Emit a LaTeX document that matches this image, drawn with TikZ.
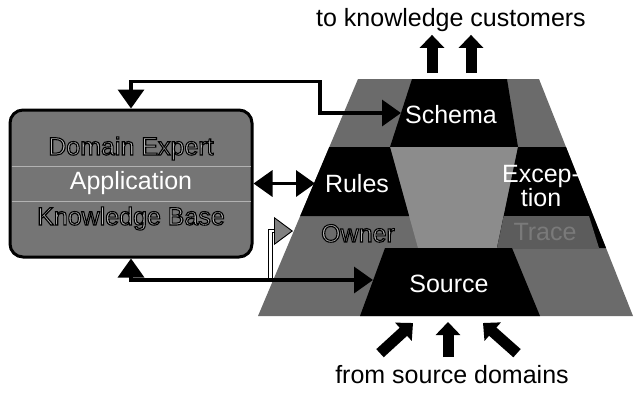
\documentclass[tikz,border=0pt]{standalone}
\usepackage{fontspec}
\setmainfont{Liberation Sans}
\usetikzlibrary{arrows.meta,calc}

\definecolor{pyrgrey}{gray}{0.42}
\definecolor{dotgrey}{gray}{0.55}
\definecolor{tracegrey}{gray}{0.36}
\definecolor{tracetext}{gray}{0.48}
\definecolor{boxgrey}{gray}{0.46}
\definecolor{embossgrey}{gray}{0.72}

% grey letters with a black rim (fill-and-stroke text rendering)
\newcommand\embossed[1]{{\color{embossgrey}%
  \special{pdf:literal direct 2 Tr 1.1 w 0 G}#1\special{pdf:literal direct 0 Tr}}}

\tikzset{
  every node/.style={font=\fontsize{25}{30}\selectfont, inner sep=0pt},
  kbbox/.style={draw=black, line width=3pt, fill=boxgrey, rounded corners=13pt,
    minimum width=242pt, minimum height=147pt, align=center,
    font=\fontsize{25}{35}\selectfont},
  kbrule/.style={draw=black!30, line width=1pt},
  layerlabel/.style={text=white},
  caption/.style={text=black, inner sep=3.5pt},
  kblink/.style={line width=3.5pt,
    {Triangle[width=26pt,length=19pt]}-{Triangle[width=26pt,length=19pt]}},
  ownerlink/.style={draw=black, line width=0.9pt, double=white, double distance=2.6pt,
    -{Triangle[width=28pt,length=19pt,fill=black!50]}},
  fatarrow/.style={line width=11pt, -{Triangle[width=24pt,length=13pt]}},
}

\begin{document}
\begin{tikzpicture}[x=1pt,y=-1pt]
\useasboundingbox (0,0) rectangle (634,392);

% ---- knowledge base box ----
\node[kbbox] (kb) at (131,183.5)
  {\embossed{Domain Expert}\\\textcolor{white}{Application}\\\embossed{Knowledge Base}};
\draw[kbrule] ([xshift=3pt,yshift=-58pt]kb.north west) -- ([xshift=-3pt,yshift=-58pt]kb.north east);
\draw[kbrule] ([xshift=3pt,yshift=-93pt]kb.north west) -- ([xshift=-3pt,yshift=-93pt]kb.north east);

% ---- layered pyramid ----
\fill[pyrgrey] (358,79) -- (539,79) -- (633,316) -- (258,316) -- cycle;
\fill[black]   (412,79) -- (507,79) -- (518,147) -- (390,147) -- cycle;          % schema
\fill[dotgrey] (390,147) -- (518,147) -- (497,248) -- (418,248) -- cycle;        % core
\fill[black]   (329.3,147) -- (390,147) -- (409.1,216) -- (300.2,216) -- cycle;  % rules
\fill[black]   (518,147) -- (566,147) -- (606,248) -- (497,248) -- cycle;        % exception
\fill[tracegrey] (503.7,216) -- (589,216) -- (599,248) -- (497,248) -- cycle;    % trace
\fill[black]   (385,248) -- (512,248) -- (540,316) -- (360,316) -- cycle;        % source

% ports on the layer borders
\coordinate (schemaport) at (401,113);
\coordinate (rulesport)  at (315,183.5);
\coordinate (sourceport) at (373,280);
\coordinate (ownerport)  at (293,231);
\coordinate (ownerfoot)  at (270.5,280);
\coordinate (outL) at (432,73);
\coordinate (outR) at (471,73);
\coordinate (inL) at (413,323);
\coordinate (inM) at (448,322);
\coordinate (inR) at (483,323);

% ---- layer labels ----
\node[layerlabel, anchor=base] (schema) at (451,123) {Schema};
\node[layerlabel, anchor=base] (rules) at (357,192) {Rules};
\node[anchor=base] (owner) at (358,242) {\embossed{Owner}};
\node[layerlabel, align=center, font=\fontsize{25}{22}\selectfont] (exception) at (541,186) {Excep-\\tion};
\node[text=tracetext, anchor=base] (trace) at (545,240) {Trace};
\node[layerlabel, anchor=base] (source) at (449,292) {Source};

\node[caption, anchor=base] (customers) at (451,26) {to knowledge customers};
\node[caption, anchor=base] (domains) at (452,383) {from source domains};

% ---- connectors ----
\draw[kblink] (kb.north) -- ++(0,-27) -| ($(schemaport)+(-81,0)$) -- (schemaport);
\draw[kblink] (kb.east |- rulesport) -- (rulesport);
\draw[ownerlink] (ownerfoot) |- (ownerport);
\draw[kblink] (kb.south) |- (sourceport);

\draw[fatarrow] (outL) -- (outL |- customers.south);
\draw[fatarrow] (outR) -- (outR |- customers.south);

\draw[fatarrow] ([xshift=-72pt,yshift=8pt]domains.north) -- (inL);
\draw[fatarrow] ([xshift=-4pt,yshift=4pt]domains.north) -- (inM);
\draw[fatarrow] ([xshift=65pt,yshift=8pt]domains.north) -- (inR);
\end{tikzpicture}
\end{document}
